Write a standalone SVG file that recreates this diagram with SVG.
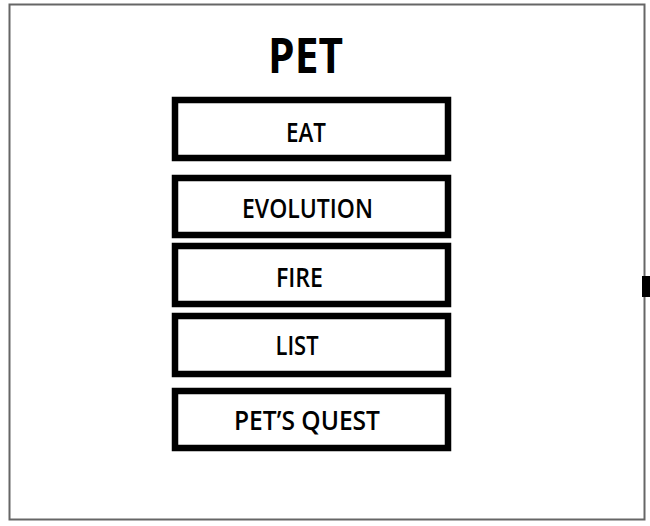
<svg xmlns="http://www.w3.org/2000/svg" width="650" height="526" viewBox="0 0 650 526">
<style>
.frame{fill:#fff;stroke:#666;stroke-width:2}
.box{fill:#fff;stroke:#000;stroke-width:6.5}
.lbl{font-family:"Open Sans","Liberation Sans",sans-serif;font-weight:600;font-size:26.5px;fill:#000;text-anchor:middle}
.title{font-family:"Open Sans","Liberation Sans",sans-serif;font-weight:700;font-size:49px;fill:#000;text-anchor:middle}
</style>
<rect x="0" y="0" width="650" height="526" fill="#fff"/>
<g id="pet">
<rect class="frame" x="9.5" y="4.5" width="635" height="515"/>
<text class="title" x="305.5" y="73" textLength="75" lengthAdjust="spacingAndGlyphs">PET</text>
</g>
<g id="eat">
<rect class="box" x="175" y="100" width="273" height="58"/>
<text class="lbl" x="306" y="142" textLength="40" lengthAdjust="spacingAndGlyphs">EAT</text>
</g>
<g id="evolution">
<rect class="box" x="175" y="178" width="273" height="57"/>
<text class="lbl" x="307.5" y="218" textLength="131" lengthAdjust="spacingAndGlyphs">EVOLUTION</text>
</g>
<g id="fire">
<rect class="box" x="175" y="246" width="273" height="58"/>
<text class="lbl" x="299.5" y="287" textLength="47" lengthAdjust="spacingAndGlyphs">FIRE</text>
</g>
<g id="list">
<rect class="box" x="175" y="316" width="273" height="58"/>
<text class="lbl" x="297" y="355" textLength="43" lengthAdjust="spacingAndGlyphs">LIST</text>
</g>
<g id="pets-quest">
<rect class="box" x="175" y="391" width="273" height="57"/>
<text class="lbl" x="307" y="430" textLength="146" lengthAdjust="spacingAndGlyphs">PET’S QUEST</text>
</g>
<g id="connectors">
<rect x="642" y="276" width="8" height="21" fill="#000"/>
</g>
</svg>
